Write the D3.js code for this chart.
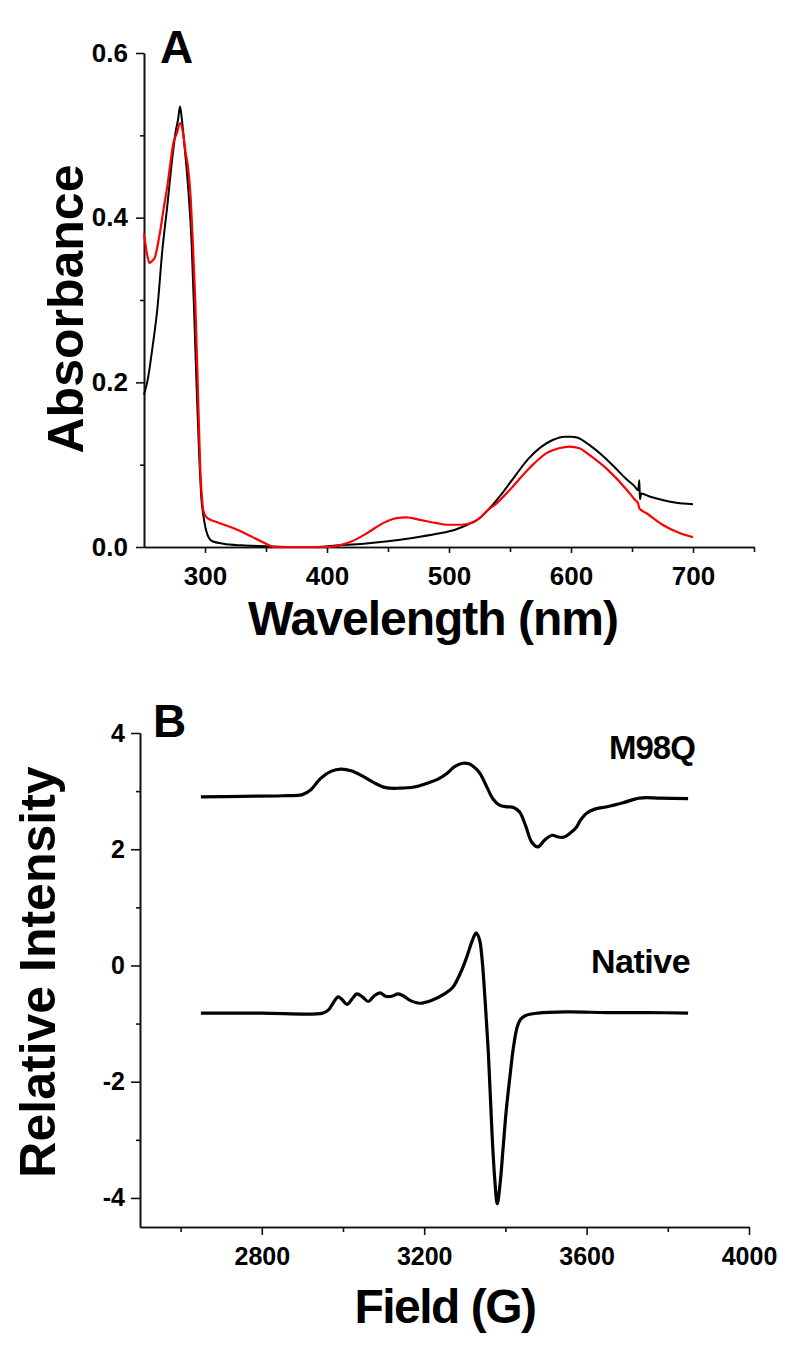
<!DOCTYPE html>
<html>
<head>
<meta charset="utf-8">
<script src="https://cdn.jsdelivr.net/npm/d3@7"></script>
<style>
  html, body { margin: 0; padding: 0; background: #fff; }
  svg { display: block; }
  text { font-family: "Liberation Sans", Arial, sans-serif; font-weight: bold; fill: #000; }
</style>
</head>
<body>
<svg id="chart" width="800" height="1350"></svg>
<script>
// ---------- Panel A data (wavelength nm, absorbance) ----------
const wavelengthBlack = [250,253,257,261,265,269,273,276,278,279.5,281,283,286,289,291,293,295,297,299,302,306,315,330,350,370,390,410,430,450,470,490,505,515,525,535,545,555,565,575,585,595,600,605,615,625,635,645,652,655,656,656.5,657.5,665,675,685,700];
const absorbanceBlack = [0.185,0.203,0.243,0.29,0.36,0.413,0.47,0.505,0.52,0.535,0.52,0.49,0.44,0.37,0.29,0.2,0.12,0.06,0.035,0.015,0.007,0.004,0.002,0.001,0.0,0.0,0.002,0.004,0.007,0.011,0.016,0.021,0.027,0.035,0.05,0.068,0.088,0.107,0.121,0.13,0.134,0.134,0.133,0.124,0.112,0.098,0.083,0.074,0.069,0.081,0.058,0.065,0.061,0.057,0.054,0.052];

const wavelengthRed = [250,252,254.5,257,259,261,263,266,269,272,274,277,279.5,282,284,286,288,290,292,294,296,297.5,299,302,310,323,339,350,356,370,390,401,410,419,433,446,457,465,476,490,498,510,520,525,532,539,552,566,580,590,599,607,613,630,646,652,655,656,662,675,689,700];
const absorbanceRed = [0.381,0.36,0.345,0.348,0.352,0.365,0.381,0.41,0.437,0.47,0.49,0.503,0.515,0.503,0.48,0.462,0.43,0.37,0.3,0.2,0.1,0.06,0.042,0.035,0.03,0.023,0.012,0.004,0.0,0.0,0.0,0.0,0.002,0.006,0.017,0.029,0.035,0.036,0.033,0.029,0.027,0.027,0.03,0.035,0.045,0.053,0.073,0.096,0.114,0.12,0.122,0.12,0.114,0.094,0.069,0.058,0.053,0.047,0.041,0.027,0.017,0.012];

const ticksA_x = [300,400,500,600,700];
const minorA_x = [350,450,550,650,750];
const ticksA_y = [0.0,0.2,0.4,0.6];
const minorA_y = [0.1,0.3,0.5];

// ---------- Panel B data (field G, relative intensity) ----------
const fieldM98Q = [2650,2750,2850,2900,2920,2945,2970,2995,3020,3045,3075,3105,3140,3175,3205,3235,3255,3275,3295,3310,3322,3337,3355,3370,3385,3405,3420,3435,3450,3465,3480,3497,3515,3530,3545,3560,3575,3585,3600,3620,3650,3690,3730,3780,3850];
const intensityM98Q = [2.90,2.91,2.92,2.94,3.02,3.22,3.34,3.38,3.35,3.27,3.15,3.06,3.05,3.07,3.13,3.21,3.30,3.42,3.48,3.47,3.42,3.31,3.06,2.86,2.76,2.73,2.72,2.64,2.40,2.12,2.04,2.16,2.24,2.21,2.21,2.28,2.38,2.50,2.62,2.69,2.73,2.80,2.88,2.88,2.87];

const fieldNative = [2650,2800,2950,2965,2978,2988,2998,3010,3022,3034,3048,3062,3076,3091,3105,3120,3136,3150,3165,3190,3222,3250,3270,3290,3305,3318,3328,3336,3342,3350,3358,3367,3374,3380,3387,3394,3402,3411,3420,3429,3437,3450,3480,3550,3650,3750,3850];
const intensityNative = [-0.82,-0.82,-0.82,-0.76,-0.62,-0.54,-0.59,-0.67,-0.58,-0.49,-0.54,-0.62,-0.53,-0.47,-0.53,-0.53,-0.49,-0.53,-0.60,-0.65,-0.59,-0.49,-0.38,-0.12,0.15,0.42,0.56,0.45,0.15,-0.6,-1.5,-2.88,-3.7,-4.1,-3.75,-3.17,-2.5,-1.92,-1.4,-1.06,-0.93,-0.86,-0.82,-0.80,-0.81,-0.81,-0.82];

const ticksB_x = [2800,3200,3600,4000];
const minorB_x = [2600,3000,3400,3800];
const ticksB_y = [-4,-2,0,2,4];
const minorB_y = [-3,-1,1,3];

// ---------- Drawing ----------
const svg = d3.select("#chart");

function zip(xs, ys) { return xs.map((x, i) => [x, ys[i]]); }

function styleAxis(g, fontSize) {
  g.attr("font-family", null).attr("font-size", null);
  g.selectAll("path.domain").attr("stroke", "#111").attr("stroke-width", 1.6);
  g.selectAll(".tick line").attr("stroke", "#111").attr("stroke-width", 1.6);
  g.selectAll("text").style("font-size", fontSize + "px").style("font-weight", "bold");
}

// Panel A
const xA = d3.scaleLinear().domain([250, 750]).range([144, 754]);
const yA = d3.scaleLinear().domain([0, 0.6]).range([547, 53]);

const gA = svg.append("g");
gA.append("g").attr("transform", "translate(0,547)")
  .call(d3.axisBottom(xA).tickValues(minorA_x).tickSize(5).tickSizeOuter(0).tickFormat(""))
  .call(g => styleAxis(g, 26));
gA.append("g").attr("transform", "translate(0,547)")
  .call(d3.axisBottom(xA).tickValues(ticksA_x).tickSize(6).tickPadding(14).tickSizeOuter(0).tickFormat(d3.format("d")))
  .call(g => styleAxis(g, 26));
gA.append("g").attr("transform", "translate(144,0)")
  .call(d3.axisLeft(yA).tickValues(minorA_y).tickSize(4).tickSizeOuter(0).tickFormat(""))
  .call(g => styleAxis(g, 26));
gA.append("g").attr("transform", "translate(144,0)")
  .call(d3.axisLeft(yA).tickValues(ticksA_y).tickSize(8).tickPadding(8).tickSizeOuter(0).tickFormat(d3.format(".1f")))
  .call(g => styleAxis(g, 26));

const lineA = d3.line().x(d => xA(d[0])).y(d => yA(d[1])).curve(d3.curveMonotoneX);
gA.append("path").datum(zip(wavelengthBlack, absorbanceBlack))
  .attr("d", lineA).attr("fill", "none").attr("stroke", "#000").attr("stroke-width", 2).attr("stroke-linejoin", "round");
gA.append("path").datum(zip(wavelengthRed, absorbanceRed))
  .attr("d", lineA).attr("fill", "none").attr("stroke", "#ff0000").attr("stroke-width", 2.2).attr("stroke-linejoin", "round");

gA.append("text").attr("x", 160).attr("y", 63).style("font-size", "46px").text("A");
gA.append("text").attr("x", 433).attr("y", 635).attr("text-anchor", "middle")
  .style("font-size", "48px").style("letter-spacing", "-1px").text("Wavelength (nm)");
gA.append("text").attr("transform", "translate(83,309) rotate(-90)").attr("text-anchor", "middle")
  .style("font-size", "50px").text("Absorbance");

// Panel B
const xB = d3.scaleLinear().domain([2500, 4000]).range([140, 749]);
const yB = d3.scaleLinear().domain([-4.5, 4]).range([1227, 733]);

const gB = svg.append("g");
gB.append("g").attr("transform", "translate(0,1227)")
  .call(d3.axisBottom(xB).tickValues(minorB_x).tickSize(5).tickSizeOuter(0).tickFormat(""))
  .call(g => styleAxis(g, 25));
gB.append("g").attr("transform", "translate(0,1227)")
  .call(d3.axisBottom(xB).tickValues(ticksB_x).tickSize(8).tickPadding(12).tickSizeOuter(0).tickFormat(d3.format("d")))
  .call(g => styleAxis(g, 25));
gB.append("g").attr("transform", "translate(140,0)")
  .call(d3.axisLeft(yB).tickValues(minorB_y).tickSize(4).tickSizeOuter(0).tickFormat(""))
  .call(g => styleAxis(g, 25));
gB.append("g").attr("transform", "translate(140,0)")
  .call(d3.axisLeft(yB).tickValues(ticksB_y).tickSize(9).tickPadding(6).tickSizeOuter(0).tickFormat(d => d < 0 ? "-" + Math.abs(d) : String(d)))
  .call(g => styleAxis(g, 25));

const lineB = d3.line().x(d => xB(d[0])).y(d => yB(d[1])).curve(d3.curveCatmullRom.alpha(0.5));
gB.append("path").datum(zip(fieldM98Q, intensityM98Q))
  .attr("d", lineB).attr("fill", "none").attr("stroke", "#000").attr("stroke-width", 3.2).attr("stroke-linejoin", "round");
gB.append("path").datum(zip(fieldNative, intensityNative))
  .attr("d", lineB).attr("fill", "none").attr("stroke", "#000").attr("stroke-width", 3.2).attr("stroke-linejoin", "round");

gB.append("text").attr("x", 153).attr("y", 737).style("font-size", "46px").text("B");
gB.append("text").attr("x", 609).attr("y", 759).style("font-size", "33px").style("letter-spacing", "-1px").text("M98Q");
gB.append("text").attr("x", 591).attr("y", 973).style("font-size", "34px").style("letter-spacing", "-0.5px").text("Native");
gB.append("text").attr("x", 445).attr("y", 1323).attr("text-anchor", "middle")
  .style("font-size", "48px").style("letter-spacing", "-1.5px").text("Field (G)");
gB.append("text").attr("transform", "translate(55,972) rotate(-90)").attr("text-anchor", "middle")
  .style("font-size", "50px").text("Relative Intensity");
</script>
</body>
</html>
